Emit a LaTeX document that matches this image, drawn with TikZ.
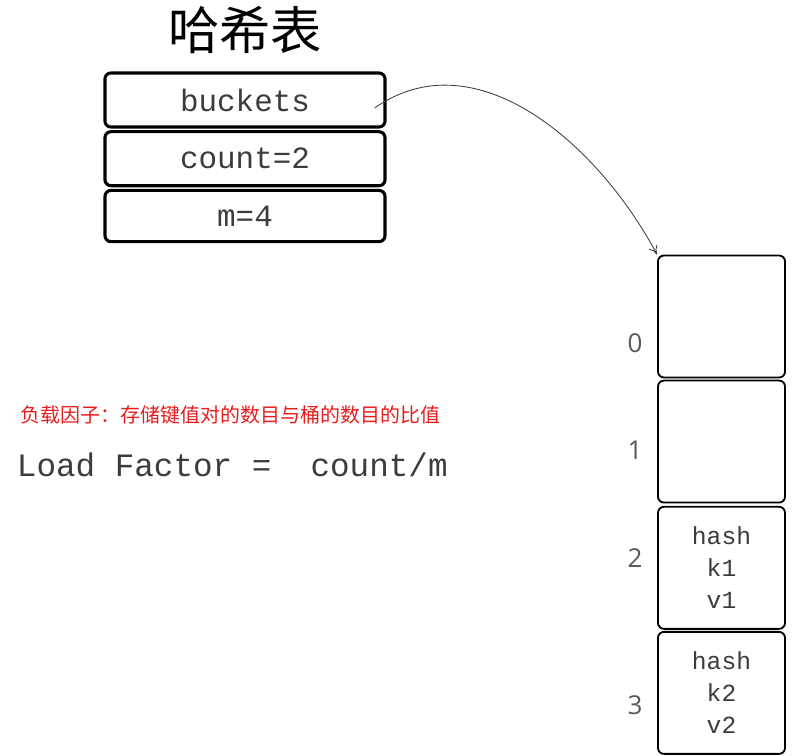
\documentclass[tikz,border=0pt]{standalone}
\usepackage{fontspec}
\usetikzlibrary{positioning,arrows.meta}
\newfontfamily\cjkfont{Noto Sans CJK SC}
\newfontfamily\codefont{Liberation Mono}
\newfontfamily\digitfont{Open Sans}
\definecolor{notered}{RGB}{232,28,28}
\definecolor{inkgray}{RGB}{60,60,60}

\begin{document}
\begin{tikzpicture}[x=0.025cm,y=-0.025cm,
    field/.style={draw,line width=2.2pt,rounded corners=0.15cm,
        minimum width=7cm,minimum height=1.35cm,
        font=\codefont\fontsize{22}{24}\selectfont,text=inkgray},
    bucket/.style={draw,line width=1.3pt,rounded corners=0.15cm,
        minimum width=3.175cm,minimum height=3.05cm,align=center,
        font=\codefont\fontsize{17.5}{22.7}\selectfont,text=inkgray},
    index/.style={font=\digitfont\fontsize{18.5}{20}\selectfont,text=black!65}]

    \useasboundingbox (0,0) rectangle (796,756);

    % title of the hash table
    \node (title) at (245,30) {\cjkfont\fontsize{36.5}{40}\selectfont 哈希表};

    % the three fields of the table
    \node[field] (buck) at (245,100) {buckets};
    \node[field,below=0.04cm of buck] (cnt) {count=2};
    \node[field,below=0.04cm of cnt,minimum height=1.28cm] (msize) {m=4};

    % the bucket array
    \node[bucket] (b0) at (721.5,316.5) {};
    \node[bucket,below=0.03cm of b0] (b1) {};
    \node[bucket,below=0.06cm of b1] (b2) {hash\\k1\\v1};
    \node[bucket,below=0.03cm of b2] (b3) {hash\\k2\\v2};

    % indices of the buckets
    \node[index] (i0) at (635,343) {0};
    \node[index] (i1) at (635,450) {1};
    \node[index] (i2) at (635,558) {2};
    \node[index] (i3) at (635,705) {3};

    % pointer from buckets to the array
    \draw[-{To[length=2.2mm,width=2.4mm]},line width=0.6pt,inkgray]
        ([xshift=-0.3cm,yshift=-0.2cm]buck.east) to[out=35,in=118] (b0.north west);

    % load factor
    \node[anchor=west,text=notered] (note) at (16,415)
        {\cjkfont\fontsize{14.2}{16}\selectfont 负载因子：存储键值对的数目与桶的数目的比值};
    \node[anchor=west,text=inkgray] (lf) at (12,465)
        {\codefont\fontsize{23.2}{24}\selectfont Load Factor =~ count/m};
\end{tikzpicture}
\end{document}
